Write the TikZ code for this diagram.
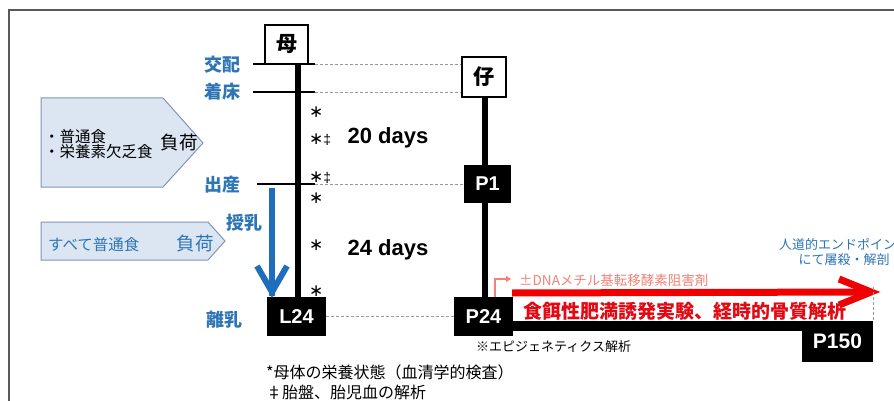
\documentclass[tikz,border=0pt]{standalone}
\usepackage{fontspec}
\setmainfont{Liberation Sans}
\setsansfont{Liberation Sans}
\newfontfamily\jp{Noto Sans CJK JP}
\newfontfamily\dvs{DejaVu Sans}
\usetikzlibrary{arrows.meta}
\definecolor{lblue}{RGB}{46,117,182}
\definecolor{arrblue}{RGB}{31,110,190}
\definecolor{penfill}{RGB}{220,230,242}
\definecolor{penline}{RGB}{130,150,180}
\definecolor{bred}{RGB}{240,0,0}
\definecolor{tred}{RGB}{225,10,20}
\definecolor{salmon}{RGB}{240,130,120}
\newcommand{\fs}[1]{\fontsize{#1}{#1}\selectfont}
\newcommand{\myast}{{\dvs\fs{17}∗}}
\newcommand{\mydag}{{\sffamily\fs{14}‡}}
\begin{document}
\begin{tikzpicture}[x=1pt,y=-1pt,
  wbox/.style={draw, line width=1.2, fill=white, inner sep=0, font=\jp\bfseries\fs{21}},
  bbox/.style={fill=black, text=white, inner sep=0, font=\sffamily\bfseries\fs{20}},
  evlabel/.style={text=lblue, inner sep=0, font=\jp\bfseries\fs{18}},
  tick/.style={line width=1.2, black},
  guide/.style={gray!80, line width=1, dash pattern=on 3pt off 2pt},
  lifeline/.style={line width=6, black},
  star/.style={inner sep=0, anchor=west},
  days/.style={inner sep=0, font=\sffamily\bfseries\fs{22}},
  pent/.style={fill=penfill, draw=penline, line width=1},
  note/.style={inner sep=0, anchor=west, font=\jp\fs{16}}
]
\clip (0,0) rectangle (894,401);
\fill[white] (0,0) rectangle (894,401);
\draw[gray!70!black, line width=2] (9,10) rectangle (920,430);

% pentagons
\draw[pent] (41,98) -- (163,98) -- (203,143) -- (163,187) -- (41,187) -- cycle;
\node[inner sep=0, anchor=west, align=left, font=\jp\fs{15.5}] (diet1) at (44,144) {・普通食\\[-1pt]・栄養素欠乏食};
\node[inner sep=0, font=\jp\fs{18.5}] (load1) at (179,143) {負荷};
\draw[pent] (41,222) -- (208,222) -- (225,241) -- (208,260) -- (41,260) -- cycle;
\node[inner sep=0, anchor=west, text=lblue, font=\jp\fs{15.5}] (diet2) at (48,245) {すべて普通食};
\node[inner sep=0, text=lblue, font=\jp\fs{18.5}] (load2) at (195,244) {負荷};

% boxes
\node[wbox, minimum width=43, minimum height=39] (mom) at (286.5,44.5) {母};
\node[wbox, minimum width=44, minimum height=40] (pup) at (484,77) {仔};
\node[bbox, minimum width=47, minimum height=38] (P1) at (487.5,184) {P1};
\node[bbox, minimum width=59, minimum height=39] (L24) at (296.5,316.5) {L24};
\node[bbox, minimum width=59, minimum height=39] (P24) at (483.5,316.5) {P24};
\coordinate (barA) at (513,321);
\coordinate (barB) at (873,331);
\fill[black] (barA) rectangle (barB);
\node[bbox, minimum width=71, minimum height=41, font=\sffamily\bfseries\fs{21}] (P150) at (837.5,341.5) {P150};

% life lines
\coordinate (mtop) at (298,64);
\draw[lifeline] (mtop) -- (mtop |- L24.north);
\coordinate (ctop) at (485,97);
\draw[lifeline] (ctop) -- (ctop |- P1.north);
\draw[lifeline] (P1.south -| ctop) -- (ctop |- P24.north);

% event ticks
\coordinate (kA) at (253,64); \coordinate (kB) at (315,64);
\draw[tick] (kA) -- (kB);
\draw[guide] (kB) ++(0,1) -- (pup.west |- 0,65);
\coordinate (cA) at (253,92); \coordinate (cB) at (315,92);
\draw[tick] (cA) -- (cB);
\draw[guide] (cB) ++(0,1) -- (pup.west |- 0,93);
\coordinate (bA) at (257,184); \coordinate (bB) at (315,184);
\draw[tick] (bA) -- (bB);
\draw[guide] (bB) -- (bB -| P1.west);
\draw[guide] (L24.east) -- (P24.west);

% event labels
\node[evlabel] (mating) at (222,65) {交配};
\node[evlabel] (implant) at (222,92) {着床};
\node[evlabel] (birth) at (222,185) {出産};
\node[evlabel] (nurse) at (244,223) {授乳};
\node[evlabel] (wean) at (224,320) {離乳};

% blue arrow
\coordinate (baTop) at (272,188);
\coordinate (baTip) at (272,292);
\draw[arrblue, line width=6] (baTop) -- ([yshift=-4]baTip);
\draw[arrblue, line width=6, line join=miter] ([shift={(-15,-26)}]baTip) -- (baTip) -- ([shift={(15,-26)}]baTip);

% asterisks
\node[star] (s1) at (309,112) {\myast};
\node[star] (s2) at (309,140) {\myast\mydag};
\node[star] (s3) at (309,178) {\myast\mydag};
\node[star] (s4) at (309,198) {\myast};
\node[star] (s5) at (309,245) {\myast};
\node[star] (s6) at (309,291) {\myast};

\node[days] (d20) at (388,138) {20 days};
\node[days] (d24) at (388,250) {24 days};

% red arrow
\coordinate (raA) at (512,293);
\coordinate (raTip) at (871,292);
\draw[bred, line width=7] (raA) -- ([xshift=-6]raTip);
\draw[bred, line width=7, line join=miter] ([shift={(-32,-13)}]raTip) -- (raTip) -- ([shift={(-32,13)}]raTip);
\node[inner sep=0, text=tred, font=\jp\bfseries\fs{19}] (exp) at (685,311) {食餌性肥満誘発実験、経時的骨質解析};

% salmon arrow
\coordinate (saA) at (495,297);
\coordinate (saB) at (511,279);
\draw[salmon, line width=1.5, -{Triangle[length=5pt,width=6pt]}] (saA) |- (saB);
\node[inner sep=0, anchor=west, text=salmon, font=\jp\fs{13.5}] (dnmt) at (519,280) {±DNAメチル基転移酵素阻害剤};

% endpoint
\coordinate (epA) at (873,287);
\coordinate (epB) at (873,321);
\draw[guide] (epA) -- (epB);
\node[inner sep=0, align=center, text=lblue, font=\jp\fs{13}] (endp) at (844,252) {人道的エンドポイント\\[2pt]にて屠殺・解剖};

% notes
\node[inner sep=0, anchor=west, font=\jp\fs{13}] (epi) at (476,347) {※エピジェネティクス解析};
\node[note] (n1) at (266,372) {*母体の栄養状態（血清学的検査）};
\node[note] (n2) at (266,392) {‡胎盤、胎児血の解析};
\end{tikzpicture}
\end{document}
